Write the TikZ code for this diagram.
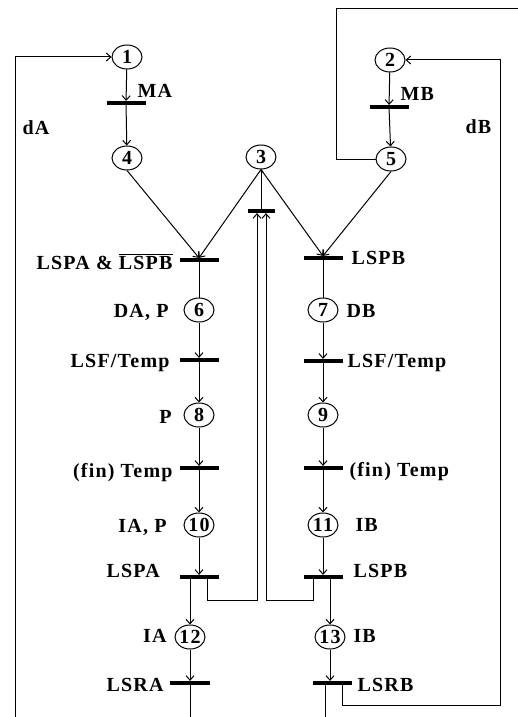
\documentclass[tikz,border=0pt]{standalone}
\usepackage{fontspec}
\setmainfont{Liberation Serif}[LetterSpace=6]
\usetikzlibrary{arrows.meta,shapes.geometric,calc}
\begin{document}
\begin{tikzpicture}[x=1pt,y=-1pt,
  every node/.style={font=\fontsize{20}{23}\selectfont\bfseries},
  place/.style={ellipse,draw,line width=1pt,minimum width=30pt,minimum height=24pt,inner sep=0pt},
  bar/.style={fill=black,minimum width=39pt,minimum height=3.2pt,inner sep=0pt},
  lbl/.style={inner sep=0pt},
  arr/.style={-{Straight Barb[length=4.5pt,width=8pt]}},
  line width=1pt]
\useasboundingbox (0,0) rectangle (518,717);
% places
\node[place] (p1) at (127,57) {1};
\node[place] (p2) at (390,60) {2};
\node[place] (p3) at (261,157) {3};
\node[place] (p4) at (127,158) {4};
\node[place] (p5) at (391,159) {5};
\node[place] (p6) at (199,310) {6};
\node[place] (p7) at (323,310) {7};
\node[place] (p8) at (199,415) {8};
\node[place] (p9) at (323,415) {9};
\node[place] (p10) at (199,525) {10};
\node[place] (p11) at (323,525) {11};
\node[place] (p12) at (190,637) {12};
\node[place] (p13) at (330,637) {13};
% transitions
\node[bar] (tMA) at (126,103) {};
\node[bar] (tMB) at (389,107) {};
\node[bar,minimum width=27pt] (tC) at (261,211) {};
\node[bar] (tAB) at (199,260) {};
\node[bar] (tB) at (323,258) {};
\node[bar] (tLA) at (199,360) {};
\node[bar] (tLB) at (323,361) {};
\node[bar] (tFA) at (199,468) {};
\node[bar] (tFB) at (323,468) {};
\node[bar] (tPA) at (199,577) {};
\node[bar] (tPB) at (323,577) {};
\node[bar,minimum width=40pt] (tRA) at (190,683) {};
\node[bar] (tRB) at (332,683) {};
% coordinates
\coordinate (la0) at (15,717);
\coordinate (la1) at (15,57);
\coordinate (o1) at (336,159);
\coordinate (o2) at (336,9);
\coordinate (o3) at (518,9);
\coordinate (fa) at (207,600);
\coordinate (cL) at (257,600);
\coordinate (fb) at (313,600);
\coordinate (cR) at (266,600);
\coordinate (lb1) at (342,705);
\coordinate (lb2) at (500,705);
\coordinate (lb3) at (500,60);
\coordinate (ea) at (190,717);
\coordinate (eb) at (325,717);
% connectors
\draw[arr] (la0) -- (la1) -- (p1.west);
\draw[arr] (p1) -- (tMA);
\draw[arr] (tMA) -- (p4);
\draw[arr] (p2) -- (tMB);
\draw[arr] (tMB) -- (p5);
\draw (p5.west) -- (o1) -- (o2) -- (o3);
\draw[arr] (p4.south) -- (tAB.north);
\draw[arr] (p3.south) -- (tAB.north);
\draw[arr] (p3.south) -- (tB.north);
\draw[arr] (p5.south) -- (tB.north);
\draw[-{Straight Barb[length=2pt,width=4pt]}] (tC) -- (p3.south);
\draw (tAB) -- (p6);
\draw (tB) -- (p7);
\draw[arr] (p6) -- (tLA);
\draw[arr] (tLA) -- (p8);
\draw[arr] (p8) -- (tFA);
\draw[arr] (tFA) -- (p10);
\draw[arr] (p10) -- (tPA);
\draw[arr] (p7) -- (tLB);
\draw[arr] (tLB) -- (p9);
\draw[arr] (p9) -- (tFB);
\draw[arr] (tFB) -- (p11);
\draw[arr] (p11) -- (tPB);
\draw[arr] (tPA.south -| p12) -- (p12);
\draw[arr] (tPB.south -| p13) -- (p13);
\draw[arr] (p12) -- (tRA.north -| p12);
\draw[arr] (p13) -- (tRB.north -| p13);
\draw[arr] (tPA.south -| fa) -- (fa) -- (cL) -- (tC.south -| cL);
\draw[arr] (tPB.south -| fb) -- (fb) -- (cR) -- (tC.south -| cR);
\draw (tRA.south -| ea) -- (ea);
\draw (tRB.south -| eb) -- (eb);
\draw[arr] (tRB.south -| lb1) -- (lb1) -- (lb2) -- (lb3) -- (p2.east);
% labels
\node[lbl,anchor=base west] (lMA) at (137,97) {MA};
\node[lbl,anchor=base west] (lMB) at (400,100) {MB};
\node[lbl,anchor=base west] (ldA) at (22,134) {dA};
\node[lbl,anchor=base west] (ldB) at (465,133) {dB};
\node[lbl,anchor=base east] (lAB) at (173,269) {LSPA \& $\overline{\hbox{LSPB}}$};
\node[lbl,anchor=base east] (l6) at (169,317) {DA, P};
\node[lbl,anchor=base east] (lLA) at (170,367) {LSF/Temp};
\node[lbl,anchor=base east] (l8) at (172,423) {P};
\node[lbl,anchor=base east] (lFA) at (173,477) {(fin) Temp};
\node[lbl,anchor=base east] (l10) at (167,532) {IA, P};
\node[lbl,anchor=base west] (lPA) at (106,577) {LSPA};
\node[lbl,anchor=base east] (l12) at (167,642) {IA};
\node[lbl,anchor=base west] (lRA) at (106,691) {LSRA};
\node[lbl,anchor=base west] (lB) at (351,264) {LSPB};
\node[lbl,anchor=base west] (l7) at (346,317) {DB};
\node[lbl,anchor=base west] (lLB) at (347,367) {LSF/Temp};
\node[lbl,anchor=base west] (lFB) at (349,476) {(fin) Temp};
\node[lbl,anchor=base west] (l11) at (355,531) {IB};
\node[lbl,anchor=base west] (lPB) at (353,577) {LSPB};
\node[lbl,anchor=base west] (l13) at (353,642) {IB};
\node[lbl,anchor=base west] (lRB) at (357,691) {LSRB};
\end{tikzpicture}
\end{document}
